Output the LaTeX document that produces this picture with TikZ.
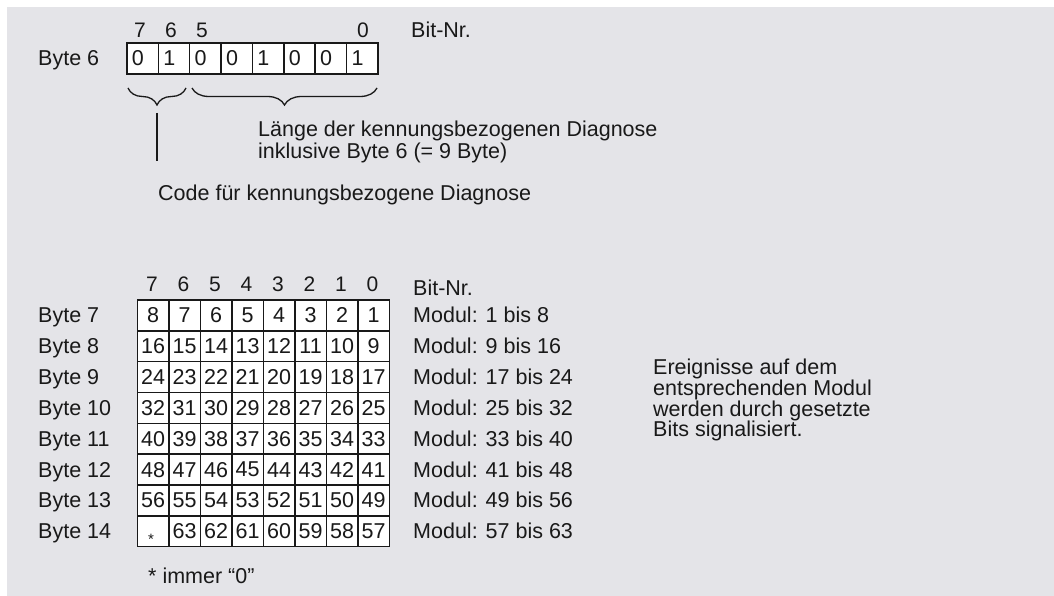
\documentclass[tikz,border=0pt]{standalone}
\usepackage{fontspec}
\setmainfont{Liberation Sans}
\usetikzlibrary{decorations.pathreplacing}
\definecolor{bg}{RGB}{228,228,232}
\definecolor{ink}{RGB}{25,25,25}
\begin{document}
\begin{tikzpicture}[x=1pt,y=-1pt,
  txt/.style={font=\fontsize{21.5}{21.5}\selectfont, text=ink, inner sep=0pt, anchor=base west},
  bitnum/.style={font=\fontsize{21}{21}\selectfont, text=ink, inner sep=0pt, anchor=base},
  cellsix/.style={draw=ink, line width=1.5pt, fill=white, minimum height=31pt,
    text width=21.4pt, inner xsep=5pt, inner ysep=0pt, align=left,
    font=\fontsize{21.5}{21.5}\selectfont, text=ink},
  cellgrid/.style={draw=ink, line width=1.5pt, fill=white, minimum width=31.5pt,
    minimum height=30.84pt, inner sep=0pt, font=\fontsize{21.5}{21.5}\selectfont, text=ink},
  bracestyle/.style={draw=ink, line width=1.3pt, decorate,
    decoration={brace, mirror, amplitude=17pt}},
  conn/.style={draw=ink, line width=1.4pt}]
\useasboundingbox (0,0) rectangle (1054,596);
\fill[bg] (7,7) rectangle (1054,596);

% ---- Byte 6 ----
\node[txt] (lb6) at (38,66) {Byte 6};
\foreach \v [count=\i] in {0,1,0,0,1,0,0,1}
  \node[cellsix] (b\i) at ({142.69+31.375*(\i-1)},58.5) {\v};
\node[bitnum] (n7) at (140,38) {7};
\node[bitnum] (n6) at (171,38) {6};
\node[bitnum] (n5) at (202,38) {5};
\node[bitnum] (n0) at (363,38) {0};
\node[txt] (bitnrA) at (411,38) {Bit-Nr.};

\coordinate (br1a) at (128,88);
\coordinate (br1b) at (186,88);
\coordinate (br2a) at (192,88);
\coordinate (br2b) at (377,88);
\draw[bracestyle] (br1a) -- (br1b);
\draw[bracestyle] (br2a) -- (br2b);
\coordinate (vl1) at (157,113);
\coordinate (vl2) at (157,161);
\draw[conn] (vl1) -- (vl2);

\node[txt] (len1) at (258,136.5) {Länge der kennungsbezogenen Diagnose};
\node[txt] (len2) at (258,158.5) {inklusive Byte 6 (= 9 Byte)};
\node[txt] (code) at (158,200.5) {Code für kennungsbezogene Diagnose};

% ---- Bytes 7..14 ----
\foreach \b [count=\i] in {7,6,5,4,3,2,1,0}
  \node[bitnum] (m\b) at ({152.05+31.5*(\i-1)},291) {\b};
\node[txt] (bitnrB) at (413,295) {Bit-Nr.};

\foreach \r in {1,...,8}{
  \pgfmathtruncatemacro{\bytenr}{\r+6}
  \node[txt] (lab\r) at (38,{315.42+30.84*(\r-1)+7.5}) {Byte \bytenr};
  \pgfmathtruncatemacro{\lo}{8*\r-7}
  \pgfmathtruncatemacro{\hi}{min(8*\r,63)}
  \node[txt] (mod\r) at (413,{315.42+30.84*(\r-1)+7.5}) {Modul: \lo\ bis \hi};
  \foreach \c in {1,...,8}{
    \pgfmathtruncatemacro{\val}{8*\r-\c+1}
    \ifnum\val=64
      \node[cellgrid] (g\r\c) at ({153.05+31.5*(\c-1)},{315.42+30.84*(\r-1)}) {};
    \else
      \node[cellgrid] (g\r\c) at ({153.05+31.5*(\c-1)},{315.42+30.84*(\r-1)}) {\val};
    \fi
  }
}
\node[font=\fontsize{15}{15}\selectfont, text=ink, inner sep=0pt] (ast) at ([xshift=-2pt,yshift=-8pt]g81.center) {*};

\node[font=\fontsize{21.5}{20.7}\selectfont, text=ink, inner sep=0pt, align=left, anchor=north west]
  (ereig) at (653,359) {Ereignisse auf dem\\entsprechenden Modul\\werden durch gesetzte\\Bits signalisiert.};

\node[txt] (immer) at (148,583) {* immer “0”};
\end{tikzpicture}
\end{document}
